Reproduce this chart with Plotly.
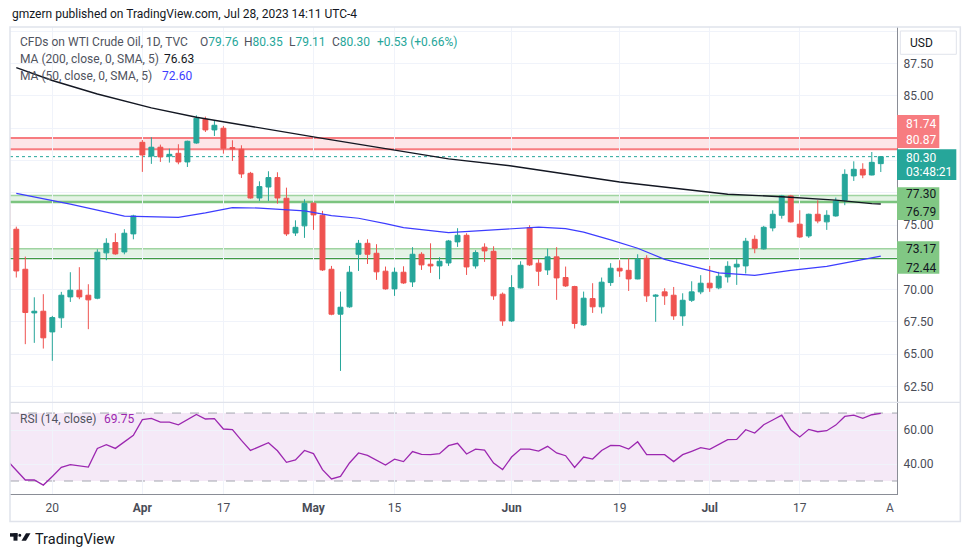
import plotly.graph_objects as go

# ---------------- data ----------------
bar_index = list(range(-1, 97))
opens = [76.60, 74.68, 71.58, 68.20, 68.33, 66.73, 67.82, 69.44, 69.96, 69.57,
         69.34, 72.85, 73.65, 72.92, 74.32, 81.41, 80.35, 81.03, 80.35, 80.56,
         79.89, 81.36, 83.19, 82.37, 82.50, 81.00, 80.87, 79.01, 77.10, 77.95,
         78.68, 77.08, 74.39, 74.94, 76.69, 75.76, 71.58, 68.10, 68.67, 72.74,
         73.59, 72.82, 71.43, 70.06, 71.35, 70.60, 72.74, 71.97, 71.84, 72.07,
         73.70, 74.21, 71.84, 73.29, 72.97, 69.65, 67.58, 70.14, 74.81, 72.05,
         71.53, 72.54, 70.94, 70.24, 67.27, 69.31, 68.67, 70.55, 71.66, 71.50,
         70.83, 72.43, 69.49, 69.83, 69.57, 67.97, 69.18, 69.83, 70.50, 70.14,
         70.99, 71.76, 71.84, 73.90, 73.16, 74.78, 75.76, 77.26, 75.07, 74.16,
         75.84, 75.25, 75.71, 76.92, 78.81, 79.32, 78.88, 79.76]
highs = [76.90, 74.88, 72.56, 69.41, 69.65, 67.97, 69.83, 71.35, 71.74, 70.42,
         73.13, 73.98, 74.37, 74.68, 75.80, 81.59, 81.80, 81.23, 80.92, 81.26,
         81.54, 83.50, 83.40, 83.06, 82.68, 81.57, 81.18, 79.12, 78.39, 79.17,
         79.09, 77.90, 75.37, 77.00, 76.75, 76.10, 71.84, 69.85, 71.84, 73.85,
         73.90, 73.52, 71.79, 71.71, 71.81, 73.29, 72.90, 73.59, 72.51, 73.85,
         74.76, 74.37, 73.05, 73.59, 73.36, 69.78, 71.12, 72.20, 74.99, 72.36,
         73.18, 73.29, 71.79, 70.30, 69.85, 70.50, 70.94, 72.05, 72.28, 72.43,
         72.74, 72.67, 69.65, 70.11, 70.21, 69.72, 70.65, 71.12, 71.84, 71.38,
         72.20, 72.36, 74.01, 74.21, 74.94, 76.15, 77.34, 77.34, 76.15, 75.89,
         76.92, 76.15, 77.13, 79.32, 79.94, 79.79, 80.66, 80.35]
lows = [74.40, 70.94, 65.78, 65.88, 65.44, 64.49, 67.04, 69.05, 69.26, 66.94,
        69.26, 72.28, 72.70, 72.74, 73.90, 79.12, 79.74, 79.89, 79.84, 79.71,
        79.50, 81.30, 82.21, 81.90, 80.53, 79.97, 78.65, 77.05, 76.87, 76.87,
        76.66, 74.16, 74.16, 74.01, 74.63, 71.45, 68.02, 63.71, 68.60, 71.45,
        71.99, 70.76, 70.00, 69.52, 70.45, 70.21, 71.53, 71.30, 70.81, 71.84,
        73.31, 71.14, 71.63, 72.15, 69.21, 67.20, 67.50, 70.10, 71.84, 70.29,
        71.14, 69.21, 70.21, 66.99, 67.20, 68.20, 68.15, 70.29, 70.99, 69.90,
        70.80, 69.05, 67.51, 68.82, 67.66, 67.20, 69.05, 69.65, 69.83, 70.03,
        70.55, 70.37, 71.25, 72.82, 73.10, 74.52, 75.50, 75.20, 74.01, 74.01,
        75.14, 74.63, 75.65, 76.54, 78.42, 78.63, 78.85, 79.11]
closes = [74.70, 71.45, 68.23, 68.33, 66.27, 67.84, 69.57, 69.96, 69.44, 69.21,
          72.90, 73.59, 72.77, 74.37, 75.71, 80.43, 81.03, 80.28, 80.48, 79.89,
          81.49, 83.27, 82.37, 82.73, 80.95, 80.90, 78.96, 77.10, 77.98, 78.68,
          77.10, 74.32, 74.83, 76.69, 75.79, 71.53, 68.10, 68.64, 71.35, 73.59,
          72.74, 71.38, 70.06, 71.35, 70.52, 72.74, 71.92, 71.84, 72.20, 73.77,
          74.21, 71.76, 72.87, 73.00, 69.52, 67.58, 70.16, 71.89, 71.92, 71.43,
          72.54, 70.91, 70.29, 67.38, 69.34, 68.67, 70.58, 71.66, 71.45, 70.83,
          72.36, 69.52, 69.57, 69.52, 67.97, 69.18, 69.83, 70.50, 70.14, 71.04,
          71.81, 71.97, 73.75, 73.21, 74.83, 75.84, 77.26, 75.25, 74.08, 75.84,
          75.32, 75.76, 76.87, 78.93, 79.32, 78.88, 79.86, 80.30]

ma200_index = [0, 4, 9, 15, 20, 24, 34, 48, 55, 67, 72, 79, 85, 91, 95, 96]
ma200_values = [87.20, 86.20, 85.15, 84.08, 83.35, 82.88, 81.72, 80.13, 79.58,
                78.34, 77.95, 77.39, 77.20, 76.93, 76.66, 76.63]
ma50_index = [0, 6, 12, 18, 21, 24, 27, 32, 35, 38, 41, 43, 48, 51, 54, 58, 61,
              63, 66, 69, 72, 75, 78, 82, 86, 90, 92, 96]
ma50_values = [77.45, 76.62, 75.70, 75.60, 75.95, 76.35, 76.32, 76.10, 75.74,
               75.53, 75.12, 74.80, 74.42, 74.55, 74.70, 74.84, 74.72, 74.45,
               73.85, 73.21, 72.35, 71.80, 71.30, 71.10, 71.50, 71.80, 72.05, 72.60]

rsi_values = [42.0,
              36.3, 30.6, 30.6, 27.6, 32.7, 38.0, 39.6, 39.0, 38.2, 49.2,
              51.4, 49.2, 53.3, 56.9, 66.1, 66.9, 64.7, 64.7, 63.1, 66.1,
              69.2, 66.5, 66.7, 60.6, 60.2, 53.9, 48.0, 50.2, 52.5, 47.8,
              41.0, 42.4, 48.0, 46.1, 36.7, 31.2, 32.7, 40.6, 46.5, 45.1,
              42.2, 39.4, 42.9, 41.4, 47.3, 45.7, 45.5, 46.1, 50.8, 52.2,
              45.9, 48.8, 48.2, 40.6, 36.7, 44.1, 48.8, 48.8, 47.6, 50.4,
              46.5, 44.9, 38.0, 44.1, 42.9, 48.0, 51.0, 50.8, 48.8, 53.1,
              45.5, 45.5, 45.5, 41.4, 45.5, 47.5, 49.6, 48.6, 51.6, 54.3,
              54.5, 60.2, 58.2, 63.1, 65.9, 68.8, 60.2, 55.9, 60.4, 59.0,
              59.6, 62.9, 68.0, 68.8, 66.9, 69.0, 69.75]

date_tick_index = [4, 14, 23, 33, 42, 55, 67, 77, 87]
date_tick_text = ["20", "<b>Apr</b>", "17", "<b>May</b>", "15", "<b>Jun</b>", "19", "<b>Jul</b>", "17"]

# tick labels hidden behind the price tags are left blank
price_ticks = [62.5, 65.0, 67.5, 70.0, 72.5, 75.0, 77.5, 80.0, 82.5, 85.0, 87.5, 90.0]
price_tick_text = ["62.50", "65.00", "67.50", "70.00", "", "75.00", "",
                   "", "", "85.00", "87.50", ""]
rsi_ticks = [40, 60]
rsi_tick_text = ["40.00", "60.00"]

resistance_band = [80.87, 81.74]
support_band_1 = [76.79, 77.30]
support_band_2 = [72.44, 73.17]
last_price = 80.30

# ---------------- styling / layout helpers ----------------
UP = "#26a69a"
DN = "#ef5350"
GRID = "#f0f3fa"
FONT = "Roboto"
OFF = 8                       # page body margin of the html page
W, H = 970 - OFF, 557 - OFF   # figure size
L, R, T, B = 10, 896.7, 27, 494.3   # plot area in target-picture pixels


def px(x):
    return (x - L) / (R - L)


def py(y):
    return (B - y) / (B - T)


fig = go.Figure()

fig.add_trace(go.Candlestick(
    x=bar_index, open=opens, high=highs, low=lows, close=closes,
    increasing=dict(line=dict(color=UP, width=1), fillcolor=UP),
    decreasing=dict(line=dict(color=DN, width=1), fillcolor=DN),
    whiskerwidth=0, hoverinfo="skip", xaxis="x", yaxis="y"))

fig.add_trace(go.Scatter(x=ma200_index, y=ma200_values, mode="lines",
                         line=dict(color="#131722", width=1.4), hoverinfo="skip",
                         xaxis="x", yaxis="y"))
fig.add_trace(go.Scatter(x=ma50_index, y=ma50_values, mode="lines",
                         line=dict(color="#3d3dff", width=1.2), hoverinfo="skip",
                         xaxis="x", yaxis="y"))
fig.add_trace(go.Scatter(x=bar_index, y=rsi_values, mode="lines",
                         line=dict(color="#9c27b0", width=1.3), hoverinfo="skip",
                         xaxis="x", yaxis="y2"))

shapes = []
# horizontal zones
for band, fill, top_c, top_w, bot_c, bot_w in [
        (resistance_band, "rgba(242,54,69,0.13)", "#f77c80", 2, "#f77c80", 2),
        (support_band_1, "rgba(76,175,80,0.15)", "#9fd4a1", 1.5, "#7cc47f", 2.5),
        (support_band_2, "rgba(76,175,80,0.15)", "#9fd4a1", 1.5, "#3f9a43", 2)]:
    shapes.append(dict(type="rect", xref="paper", yref="y", x0=0, x1=1,
                       y0=band[0], y1=band[1], fillcolor=fill, line=dict(width=0),
                       layer="below"))
    shapes.append(dict(type="line", xref="paper", yref="y", x0=0, x1=1,
                       y0=band[1], y1=band[1], line=dict(color=top_c, width=top_w),
                       layer="below"))
    shapes.append(dict(type="line", xref="paper", yref="y", x0=0, x1=1,
                       y0=band[0], y1=band[0], line=dict(color=bot_c, width=bot_w),
                       layer="below"))
# last price dotted line
shapes.append(dict(type="line", xref="paper", yref="y", x0=0, x1=1,
                   y0=last_price, y1=last_price,
                   line=dict(color=UP, width=1, dash="dot"), layer="below"))
# RSI zone
shapes.append(dict(type="rect", xref="paper", yref="y2", x0=0, x1=1, y0=30, y1=70,
                   fillcolor="rgba(156,39,176,0.1)", line=dict(width=0), layer="below"))
for lvl in (30, 70):
    shapes.append(dict(type="line", xref="paper", yref="y2", x0=0, x1=1, y0=lvl, y1=lvl,
                       line=dict(color="#a3a6af", width=1, dash="dash"), layer="below"))
# pane separator
shapes.append(dict(type="line", xref="paper", yref="paper", x0=px(10), x1=px(960),
                   y0=py(402.6), y1=py(402.6), line=dict(color="#e0e3eb", width=1.2),
                   layer="above"))
# frame
shapes.append(dict(type="rect", xref="paper", yref="paper", x0=px(10), x1=px(960),
                   y0=py(521.7), y1=py(27), line=dict(color="#e0e3eb", width=1.5),
                   layer="above"))
# price label boxes
boxes = [
    (896.7, 939, 115, 148, "#f77c80"),
    (896.7, 956, 149.3, 180, UP),
    (896.7, 939, 187.3, 220, "#81c784"),
    (896.7, 939, 241.3, 274, "#81c784"),
]
for x0, x1, y0, y1, c in boxes:
    shapes.append(dict(type="rect", xref="paper", yref="paper", x0=px(x0), x1=px(x1),
                       y0=py(y1), y1=py(y0), fillcolor=c, line=dict(width=0),
                       layer="above"))
# USD box
shapes.append(dict(type="rect", xref="paper", yref="paper", x0=px(900), x1=px(956),
                   y0=py(54.3), y1=py(31), fillcolor="white",
                   line=dict(color="#e0e3eb", width=1), layer="above"))
# TradingView logo (approximation)
logo = "#131722"
shapes.append(dict(type="rect", xref="paper", yref="paper", x0=px(10), x1=px(17.5),
                   y0=py(537), y1=py(533.5), fillcolor=logo, line=dict(width=0), layer="above"))
shapes.append(dict(type="rect", xref="paper", yref="paper", x0=px(13.5), x1=px(17.5),
                   y0=py(541), y1=py(533.5), fillcolor=logo, line=dict(width=0), layer="above"))
shapes.append(dict(type="circle", xref="paper", yref="paper", x0=px(18.3), x1=px(21.3),
                   y0=py(537), y1=py(534), fillcolor=logo, line=dict(width=0), layer="above"))
shapes.append(dict(type="path", xref="paper", yref="paper",
                   path=f"M {px(26)} {py(533.5)} L {px(30.5)} {py(533.5)} L {px(26)} {py(541)} L {px(21.5)} {py(541)} Z",
                   fillcolor=logo, line=dict(width=0), layer="above"))

ann = []


def text(x, y, s, color="#131722", size=12, anchor="left", family=FONT):
    ann.append(dict(xref="paper", yref="paper", x=px(x), y=py(y), text=s,
                    showarrow=False, xanchor=anchor, yanchor="middle",
                    font=dict(family=family, size=size, color=color)))


GREY = "#50535e"
text(10, 14, "gmzern published on TradingView.com, Jul 28, 2023 14:11 UTC-4", "#131722", 12)
text(17.5, 42.3, "CFDs on WTI Crude Oil, 1D, TVC", GREY)
text(197.5, 42.3, f"O<span style='color:{UP}'>79.76</span>", GREY)
text(241.5, 42.3, f"H<span style='color:{UP}'>80.35</span>", GREY)
text(286.5, 42.3, f"L<span style='color:{UP}'>79.11</span>", GREY)
text(330, 42.3, f"C<span style='color:{UP}'>80.30</span>", GREY)
text(375, 42.3, "+0.53 (+0.66%)", UP)
text(17.5, 59, "MA (200, close, 0, SMA, 5)", GREY)
text(162, 59, "76.63", "#131722")
text(17.5, 75.7, "MA (50, close, 0, SMA, 5)", GREY)
text(160, 75.7, "72.60", "#3d3dff")
text(18, 419, "RSI (14, close)", GREY)
text(101.5, 419, "69.75", "#9c27b0")

# axis price labels
text(903.5, 124.3, "81.74", "white")
text(903.5, 140, "80.87", "white")
text(903.5, 158.3, "80.30", "white")
text(903.5, 171.7, "03:48:21", "white")
text(903.5, 194.3, "77.30", "#131722")
text(903.5, 211.8, "76.79", "#131722")
text(903.5, 249.3, "73.17", "#131722")
text(903.5, 268.3, "72.44", "#131722")
text(907.5, 43, "USD", "#131722")
text(896, 508, "A", "#50535e", anchor="right")
text(33, 539.5, "TradingView", "#131722", 14.5)

fig.update_layout(
    width=W, height=H,
    margin=dict(l=L - OFF, r=W - (R - OFF), t=T - OFF, b=H - (B - OFF), pad=0),
    paper_bgcolor="white", plot_bgcolor="white",
    showlegend=False, boxgap=0.22,
    font=dict(family=FONT, size=12, color="#131722"),
    xaxis=dict(domain=[0, 1], range=[-0.7, 97.8], anchor="y2",
               tickvals=date_tick_index, ticktext=date_tick_text,
               showgrid=True, gridcolor=GRID, gridwidth=1, zeroline=False,
               showline=True, linecolor="#8a8d96", linewidth=1,
               ticks="outside", ticklen=3, tickcolor="rgba(0,0,0,0)",
               tickfont=dict(family=FONT, size=12, color="#4a4d57"),
               rangeslider=dict(visible=False), fixedrange=True),
    yaxis=dict(domain=[py(402), 1], range=[61.32, 90.34], side="right", anchor="x",
               tickvals=price_ticks, ticktext=price_tick_text,
               showgrid=True, gridcolor=GRID, zeroline=False,
               showline=True, linecolor="#8a8d96", linewidth=1,
               ticks="outside", ticklen=3, tickcolor="rgba(0,0,0,0)",
               tickfont=dict(family=FONT, size=12, color="#4a4d57")),
    yaxis2=dict(domain=[0, py(403.3)], range=[22.35, 75.88], side="right", anchor="x",
                tickvals=rsi_ticks, ticktext=rsi_tick_text,
                showgrid=True, gridcolor=GRID, zeroline=False,
                showline=True, linecolor="#8a8d96", linewidth=1,
                ticks="outside", ticklen=3, tickcolor="rgba(0,0,0,0)",
                tickfont=dict(family=FONT, size=12, color="#4a4d57")),
    shapes=shapes, annotations=ann,
)

fig.write_html("out.html")
